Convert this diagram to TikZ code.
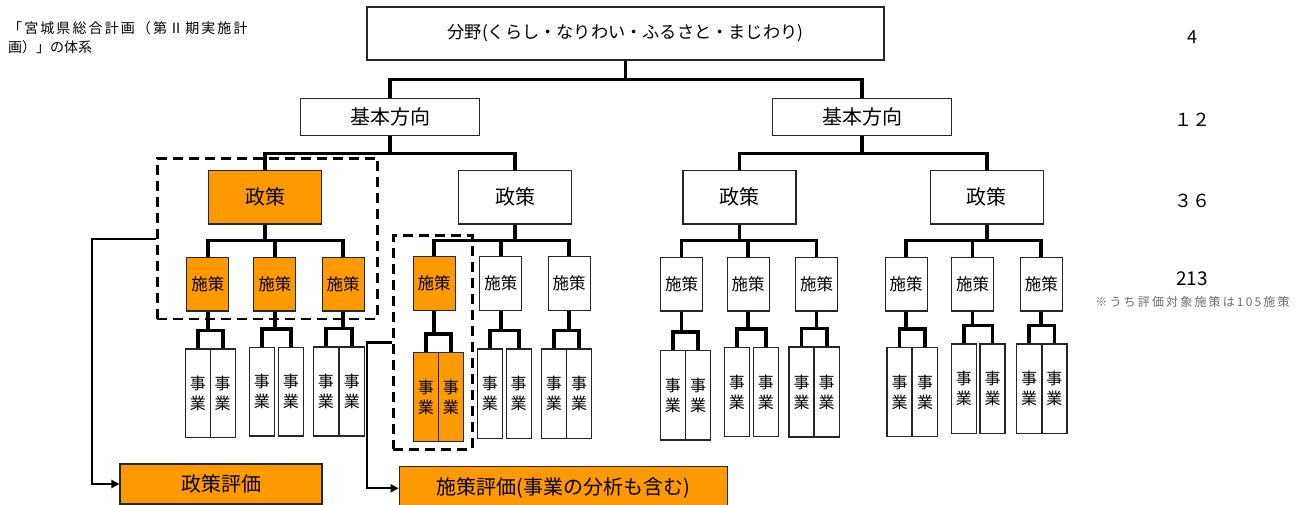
\documentclass[tikz,border=0pt]{standalone}
\usepackage{fontspec}
\setmainfont{Noto Sans CJK JP}
\usetikzlibrary{arrows.meta,calc}
\definecolor{orng}{RGB}{255,153,0}
\definecolor{notegray}{RGB}{110,110,110}
\newcommand\myfs[1]{\fontsize{#1}{#1}\selectfont}
\newcommand\jg[6]{%
  \node[jbox,#6,minimum height={#5-#4}] (#1a) at (#2,{(#4+#5)/2}) {事\\業};
  \node[jbox,#6,minimum height={#5-#4}] (#1b) at (#3,{(#4+#5)/2}) {事\\業};
  \coordinate (#1bar) at ($(#1a.north)!.5!(#1b.north)+(0,-18)$);
  \draw[conn] (#1.south) -- (#1.south |- #1bar);
  \draw[conn] (#1a.north) |- (#1bar) -| (#1b.north);
}
\begin{document}
\begin{tikzpicture}[x=1pt,y=-1pt,
  box/.style={draw=black!85,line width=1.2pt,fill=white,inner sep=0pt,anchor=center},
  obox/.style={box,fill=orng},
  conn/.style={line width=3.8pt,line join=miter},
  dbox/.style={draw=black,line width=2.8pt,dash pattern=on 10pt off 6pt,inner sep=0pt},
  arr/.style={line width=2.2pt,-{Triangle[length=8pt,width=8pt]}},
  jbox/.style={box,minimum width=25pt,font=\fontsize{16}{20}\selectfont,align=center},
  sbox/.style={box,minimum width=42pt,minimum height=53.5pt,font=\myfs{16.5}},
  pbox/.style={box,minimum width=113pt,minimum height=53.3pt,font=\myfs{20}},
  kbox/.style={box,minimum width=179pt,minimum height=37pt,font=\myfs{20}},
  num/.style={inner sep=0pt,font=\myfs{18}},
]
\useasboundingbox[fill=white] (0,0) rectangle (1296,505);

% title
\node[anchor=west,inner sep=0pt,font=\myfs{14}\addfontfeatures{LetterSpace=15}] (t1) at (8,28.5) {「宮城県総合計画（第Ⅱ期実施計};
\node[anchor=west,inner sep=0pt,font=\myfs{14}] (t2) at (8,47) {画）」の体系};

% dashed frames
\node[dbox,minimum width=220.4pt,minimum height=160.7pt] (d1) at (267.5,238.7) {};
\node[dbox,minimum width=79pt,minimum height=213.6pt] (d2) at (432.8,342.5) {};

% top levels
\node[box,minimum width=517pt,minimum height=53pt,font=\myfs{17.2}] (top) at (625.5,33.5) {分野(くらし・なりわい・ふるさと・まじわり)};
\node[kbox] (kl) at (390.3,117) {基本方向};
\node[kbox] (kr) at (862.2,117) {基本方向};

\node[pbox,fill=orng] (p1) at (265,197.3) {政策};
\node[pbox] (p2) at (515.1,197.3) {政策};
\node[pbox] (p3) at (739.5,197.3) {政策};
\node[pbox] (p4) at (986.9,197.3) {政策};

\node[sbox,fill=orng] (s11) at (207.8,284.2) {施策};
\node[sbox,fill=orng] (s12) at (274.8,284.2) {施策};
\node[sbox,fill=orng] (s13) at (343.2,284.2) {施策};
\node[sbox,fill=orng] (s21) at (434.2,283.4) {施策};
\node[sbox] (s22) at (500.8,283.4) {施策};
\node[sbox] (s23) at (569.2,283.4) {施策};
\node[sbox] (s31) at (681.5,284.3) {施策};
\node[sbox] (s32) at (748.2,284.3) {施策};
\node[sbox] (s33) at (816.5,284.3) {施策};
\node[sbox] (s41) at (906.2,284.3) {施策};
\node[sbox] (s42) at (972.5,284.3) {施策};
\node[sbox] (s43) at (1041.3,284.3) {施策};

% connectors upper
\coordinate (b0) at ($(top.south)+(0,19)$);
\draw[conn] (top.south) -- (b0);
\draw[conn] (kl.north) |- (b0) -| (kr.north);
\coordinate (b1) at ($(kl.south)+(0,17.5)$);
\draw[conn] (kl.south) -- (b1);
\draw[conn] (p1.north) |- (b1) -| (p2.north);
\coordinate (b2) at ($(kr.south)+(0,17.5)$);
\draw[conn] (kr.south) -- (b2);
\draw[conn] (p3.north) |- (b2) -| (p4.north);

\foreach \p/\a/\b/\c in {p1/s11/s12/s13,p2/s21/s22/s23,p3/s31/s32/s33,p4/s41/s42/s43}{
  \coordinate (\p bar) at ($(\p.south)+(0,16)$);
  \draw[conn] (\p.south) -- (\p bar);
  \draw[conn] (\a.north) |- (\p bar) -| (\c.north);
  \draw[conn] (\b.north) -- (\b.north |- \p bar);
}

% jigyou
\jg{s11}{197.9}{222.7}{349}{437.7}{fill=white}
\jg{s12}{261.8}{290.8}{347.3}{436}{fill=white}
\jg{s13}{325.8}{351.8}{347}{436}{fill=white}
\jg{s21}{425.8}{450.8}{352.3}{441.7}{fill=orng}
\jg{s22}{489.8}{518.7}{349}{438.3}{fill=white}
\jg{s23}{553.8}{579}{349}{438.3}{fill=white}
\jg{s31}{672.9}{698}{350.7}{440}{fill=white}
\jg{s32}{736.8}{765.8}{347.3}{436.7}{fill=white}
\jg{s33}{801.5}{826.7}{347}{437}{fill=white}
\jg{s41}{899.5}{925}{347.3}{436.7}{fill=white}
\jg{s42}{963.9}{992.5}{344}{433.3}{fill=white}
\jg{s43}{1029.2}{1054.4}{344}{433.3}{fill=white}

% evaluation boxes
\node[obox,minimum width=202pt,minimum height=40pt,font=\myfs{20}] (pe) at (221,484) {政策評価};
\node[obox,minimum width=328pt,minimum height=43pt,font=\myfs{20}] (se) at (563.2,488.3) {施策評価(事業の分析も含む)};
\draw[arr] (d1.west) -- ++(-64,0) |- (pe.west);
\draw[arr] (d2.west) -- ++(-25,0) |- (se.west);

% counts
\node[num] (n1) at (1192,37) {4};
\node[num] (n2) at (1192,120) {１２};
\node[num] (n3) at (1192,201) {３６};
\node[num,font=\myfs{19}] (n4) at (1192,279) {213};
\node[inner sep=0pt,text=notegray,font=\myfs{12}\addfontfeatures{LetterSpace=18}] (n5) at (1192.5,301.5) {※うち評価対象施策は105施策};
\end{tikzpicture}
\end{document}
